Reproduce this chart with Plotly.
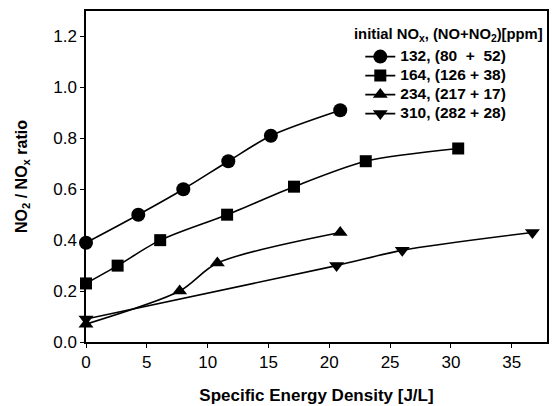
import plotly.graph_objects as go

# Specific energy density [J/L] and NO2/NOx ratio for each initial NOx level
x_132 = [0.0, 4.3, 8.0, 11.7, 15.2, 20.9]
y_132 = [0.39, 0.50, 0.60, 0.71, 0.81, 0.91]

x_164 = [0.0, 2.6, 6.1, 11.6, 17.1, 23.0, 30.6]
y_164 = [0.23, 0.30, 0.40, 0.50, 0.61, 0.71, 0.76]

x_234 = [0.0, 7.7, 10.8, 20.9]
y_234 = [0.07, 0.20, 0.31, 0.43]

x_310 = [0.0, 20.6, 26.0, 36.7]
y_310 = [0.09, 0.30, 0.36, 0.43]

labels = ["132, (80  +  52)", "164, (126 + 38)", "234, (217 + 17)", "310, (282 + 28)"]
symbols = ["circle", "square", "triangle-up", "triangle-down"]
marker_sizes = [14, 12, 13, 13]

x_ticks = [0, 5, 10, 15, 20, 25, 30, 35]
y_ticks = [0.0, 0.2, 0.4, 0.6, 0.8, 1.0, 1.2]

legend_title = "<b>initial NO<sub>x</sub>, (NO+NO<sub>2</sub>)[ppm]</b>"

FONT = "Liberation Sans, Arial, sans-serif"

fig = go.Figure()
series = [(x_132, y_132), (x_164, y_164), (x_234, y_234), (x_310, y_310)]
for (xs, ys), name, sym, ms in zip(series, labels, symbols, marker_sizes):
    fig.add_trace(go.Scatter(
        x=xs, y=ys,
        # larger inline font keeps the entries compact while the text stays readable
        name='<span style="font-size:15.5px"><b>' + name + "</b></span>",
        mode="lines+markers",
        line=dict(color="black", width=1.6, shape="spline", smoothing=0.8),
        marker=dict(symbol=sym, size=ms, color="black"),
        cliponaxis=False,
    ))

axis_common = dict(
    showgrid=False, zeroline=False, automargin=False,
    showline=True, linecolor="black", linewidth=1.5, mirror=True,
    ticks="outside", ticklen=4, tickcolor="black", tickwidth=1,
    tickfont=dict(family=FONT, size=17, color="black"),
)

fig.update_layout(
    width=557, height=406,
    margin=dict(l=86, r=10, t=11, b=64),
    paper_bgcolor="white", plot_bgcolor="white",
    font=dict(family=FONT, color="black"),
    xaxis=dict(
        range=[0, 37.9], tickvals=x_ticks,
        title=dict(text="<b>Specific Energy Density [J/L]</b>",
                   font=dict(family=FONT, size=17), standoff=18),
        **axis_common,
    ),
    yaxis=dict(
        range=[0, 1.3], tickvals=y_ticks, tickformat=".1f",
        title=dict(text="<b>NO<sub>2</sub> / NO<sub>x</sub> ratio</b>",
                   font=dict(family=FONT, size=16), standoff=22),
        **axis_common,
    ),
    legend=dict(
        font=dict(family=FONT, size=11),
        x=0.595, xanchor="left", y=0.906, yanchor="top",
        bgcolor="rgba(0,0,0,0)", tracegroupgap=0,
    ),
    annotations=[dict(
        text=legend_title, xref="paper", yref="paper",
        x=0.996, y=0.961, xanchor="right", yanchor="top",
        showarrow=False, font=dict(family=FONT, size=14.8, color="black"),
    )],
)

fig.write_html("out.html")
